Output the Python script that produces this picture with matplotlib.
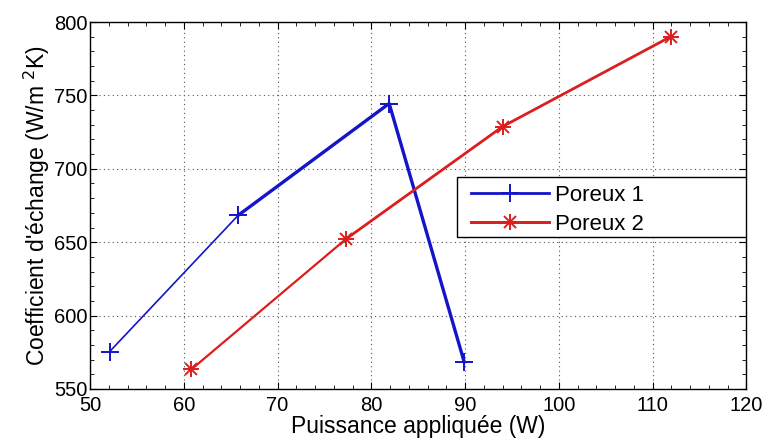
import numpy as np
import matplotlib
matplotlib.use('Agg')
import matplotlib.pyplot as plt
from matplotlib.ticker import MultipleLocator
from matplotlib.legend_handler import HandlerTuple
from matplotlib.patches import Rectangle

plt.rcParams['font.family'] = ['Liberation Sans', 'DejaVu Sans']

# data
puissance_1 = [52.1, 65.8, 81.9, 89.9]
coeff_1 = [575.5, 668.3, 744.5, 568.4]
puissance_2 = [60.8, 77.3, 94.0, 111.9]
coeff_2 = [563.3, 652.2, 728.8, 790.0]
labels = ['Poreux 1', 'Poreux 2']

blue = '#1414c8'
red = '#dc1e1e'

fig = plt.figure(figsize=(7.66, 4.41), dpi=100)
ax = fig.add_axes([0.1175, 0.118, 0.857, 0.832])

# first segment is drawn thinner in the original
ax.plot(puissance_1[:2], coeff_1[:2], color=blue, lw=1.2)
ax.plot(puissance_1[1:], coeff_1[1:], color=blue, lw=2.4)
ax.plot(puissance_1, coeff_1, ls='none', marker='+', ms=13, mew=1.4, color=blue)
ax.plot(puissance_2[:2], coeff_2[:2], color=red, lw=1.6)
ax.plot(puissance_2[1:], coeff_2[1:], color=red, lw=2.0)
# matlab style asterisk = plus + cross
ax.plot(puissance_2, coeff_2, ls='none', marker='+', ms=12, mew=1.4, color=red)
ax.plot(puissance_2, coeff_2, ls='none', marker='x', ms=8.5, mew=1.4, color=red)

# legend: box drawn separately so the inner padding matches the original
ax.add_patch(Rectangle((0.559, 0.413), 0.441, 0.165, transform=ax.transAxes,
                       facecolor='white', edgecolor='black', lw=1.0, zorder=4))
h1, = ax.plot([], [], color=blue, lw=2, marker='+', ms=13, mew=1.4)
h2a, = ax.plot([], [], color=red, lw=2, marker='+', ms=12, mew=1.4)
h2b, = ax.plot([], [], color=red, lw=2, marker='x', ms=8.5, mew=1.4)
leg = ax.legend([h1, (h2a, h2b)], labels, loc='upper left',
                bbox_to_anchor=(0.581, 0.556),
                handler_map={tuple: HandlerTuple(ndivide=1)},
                fontsize=16, handlelength=3.47, handletextpad=0.3,
                frameon=False, borderaxespad=0, borderpad=0, labelspacing=0.35)
leg.set_zorder(5)

ax.set_xlim(50, 120)
ax.set_ylim(550, 800)
ax.xaxis.set_major_locator(MultipleLocator(10))
ax.xaxis.set_minor_locator(MultipleLocator(2))
ax.yaxis.set_major_locator(MultipleLocator(50))
ax.yaxis.set_minor_locator(MultipleLocator(10))
ax.tick_params(which='both', direction='in', top=True, right=True, labelsize=14.5)
ax.tick_params(which='major', length=5)
ax.tick_params(axis='y', which='major', pad=2)
ax.tick_params(axis='x', which='major', pad=5)
ax.tick_params(which='minor', length=3)
ax.grid(True, which='major', ls=(0, (1, 3)), color='#555555', lw=0.8)
for s in ax.spines.values():
    s.set_linewidth(1.0)

ax.set_xlabel('Puissance appliquée (W)', fontsize=16.5, labelpad=0)
ax.set_ylabel("Coefficient d'échange (W/m $^{2}$K)", fontsize=16.5, labelpad=1)

fig.savefig('out.png', dpi=100)
